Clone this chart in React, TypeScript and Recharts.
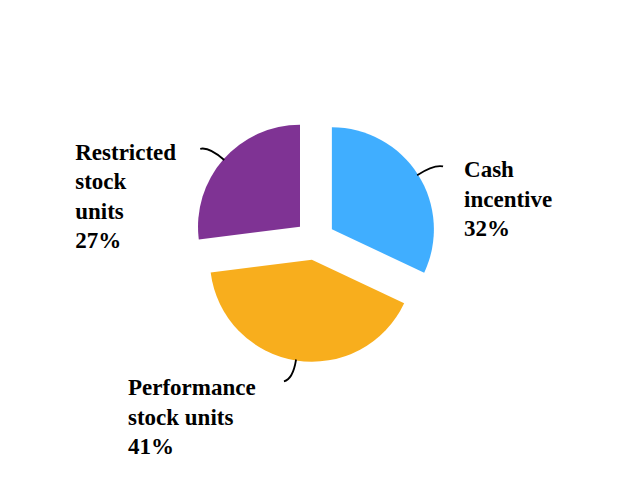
import { PieChart, Pie, Cell, Sector } from 'recharts';

const categories = ['Cash incentive', 'Performance stock units', 'Restricted stock units'];
const shares = [32, 41, 27];
const labelLines = [
  ['Cash', 'incentive', '32%'],
  ['Performance', 'stock units', '41%'],
  ['Restricted', 'stock', 'units', '27%'],
];
const colors = ['#40AEFF', '#F8AE1D', '#7F3394'];

// leader hook direction and where each text block sits relative to the leader end
const hookSide = [1, -1, -1];
const textOffsets = [
  { dx: 21, dy: 11 },
  { dx: -156, dy: 14 },
  { dx: -125, dy: 11 },
];

const data = categories.map((name, i) => ({ name, value: shares[i] }));

const EXPLODE = 20;
const RAD = Math.PI / 180;
const SERIF = 'Liberation Serif, Times New Roman, serif';

const ExplodedSlice = (props: any) => {
  const { cx, cy, midAngle } = props;
  const dx = EXPLODE * Math.cos(midAngle * RAD);
  const dy = -EXPLODE * Math.sin(midAngle * RAD);
  return <Sector {...props} cx={cx + dx} cy={cy + dy} stroke="none" />;
};

const renderLabel = (props: any) => {
  const { cx, cy, midAngle, outerRadius, index } = props;
  const ux = Math.cos(midAngle * RAD);
  const uy = -Math.sin(midAngle * RAD);
  const sx = cx + (EXPLODE + outerRadius - 1) * ux;
  const sy = cy + (EXPLODE + outerRadius - 1) * uy;
  const qx = sx + 20 * ux;
  const qy = sy + 20 * uy;
  const ex = qx + hookSide[index] * 9;
  const ey = qy + 2;
  const off = textOffsets[index];
  const tx = ex + off.dx;
  const ty = ey + off.dy;
  return (
    <g>
      <path
        d={`M${sx},${sy} Q${qx},${qy} ${ex},${ey}`}
        stroke="#000"
        strokeWidth={1.8}
        fill="none"
      />
      <text
        x={tx}
        y={ty}
        fill="#000"
        style={{ fontFamily: SERIF, fontWeight: 'bold', fontSize: 23 }}
        textAnchor="start"
      >
        {labelLines[index].map((line, k) => (
          <tspan key={k} x={tx} dy={k === 0 ? 0 : 29.5}>
            {line}
          </tspan>
        ))}
      </text>
    </g>
  );
};

export default function App() {
  return (
    <div style={{ position: 'absolute', left: 0, top: 0, width: 630, height: 480, background: '#fff' }}>
      <PieChart width={630} height={480}>
        <Pie
          data={data}
          dataKey="value"
          nameKey="name"
          cx={310}
          cy={235}
          outerRadius={102}
          startAngle={90}
          endAngle={-270}
          shape={ExplodedSlice}
          label={renderLabel}
          labelLine={false}
          isAnimationActive={false}
        >
          {data.map((d, i) => (
            <Cell key={d.name} fill={colors[i]} />
          ))}
        </Pie>
      </PieChart>
    </div>
  );
}
